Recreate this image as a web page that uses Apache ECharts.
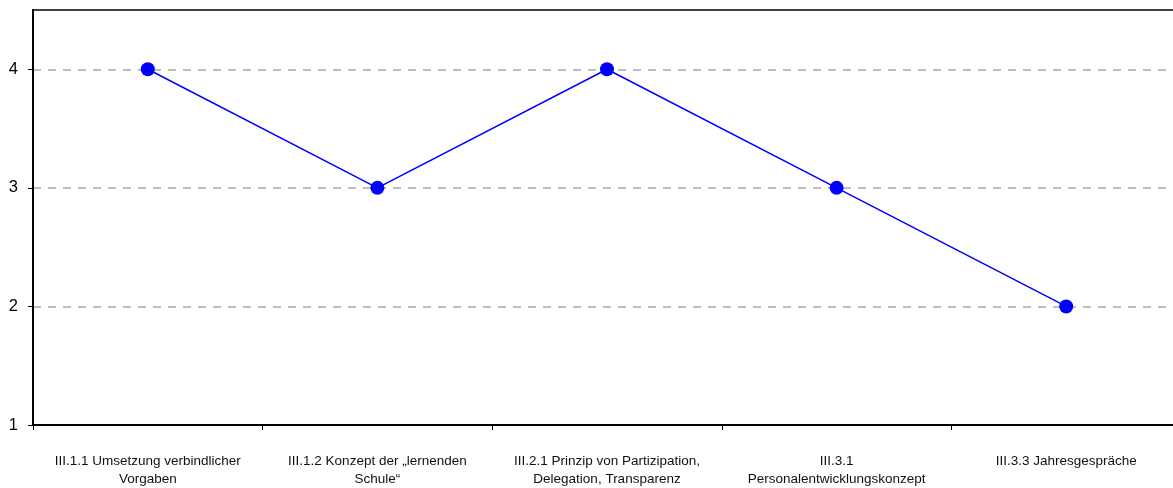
<!DOCTYPE html>
<html>
<head>
<meta charset="utf-8">
<script src="https://cdn.jsdelivr.net/npm/echarts@6/dist/echarts.min.js"></script>
<style>html,body{margin:0;padding:0;background:#fff;overflow:hidden}#c{width:1181px;height:488px}</style>
</head>
<body>
<div id="c"></div>
<script>
const categories = [
  "III.1.1 Umsetzung verbindlicher\nVorgaben",
  "III.1.2 Konzept der „lernenden\nSchule“",
  "III.2.1 Prinzip von Partizipation,\nDelegation, Transparenz",
  "III.3.1\nPersonalentwicklungskonzept",
  "III.3.3 Jahresgespräche"
];
const values = [4, 3, 4, 3, 2];
const yTicks = [1, 2, 3, 4];

const chart = echarts.init(document.getElementById('c'), null, {renderer: 'canvas'});
chart.setOption({
  animation: false,
  backgroundColor: '#fff',
  grid: {left: 33, right: 0, top: 10, bottom: 63, show: true, borderColor: '#000', borderWidth: 1.5, containLabel: false, outerBoundsMode: 'none'},
  xAxis: {
    type: 'category',
    data: categories,
    boundaryGap: true,
    axisLine: {show: true, lineStyle: {color: '#000', width: 2}},
    axisTick: {show: true, inside: false, length: 5, lineStyle: {color: '#000', width: 1}},
    axisLabel: {fontFamily: 'Liberation Sans, Arial, sans-serif', fontSize: 13.5, color: '#111', margin: 27, lineHeight: 18, interval: 0}
  },
  yAxis: {
    type: 'value',
    min: 1, max: 4.5, interval: 1,
    axisLine: {show: true, lineStyle: {color: '#000', width: 2}},
    axisTick: {show: true, length: 5, customValues: yTicks, lineStyle: {color: '#000'}},
    axisLabel: {
      fontFamily: 'Liberation Sans, Arial, sans-serif', fontSize: 16.5, color: '#000', margin: 15,
      customValues: yTicks,
      formatter: v => yTicks.indexOf(v) >= 0 ? String(v) : ''
    },
    splitLine: {show: true, showMinLine: false, lineStyle: {color: '#a8a8a8', type: [8, 7], width: 1.5}}
  },
  series: [{
    type: 'line',
    data: values,
    symbol: 'circle',
    symbolSize: 14,
    lineStyle: {color: '#0000ff', width: 1.5},
    itemStyle: {color: '#0000ff'}
  }]
});
</script>
</body>
</html>
